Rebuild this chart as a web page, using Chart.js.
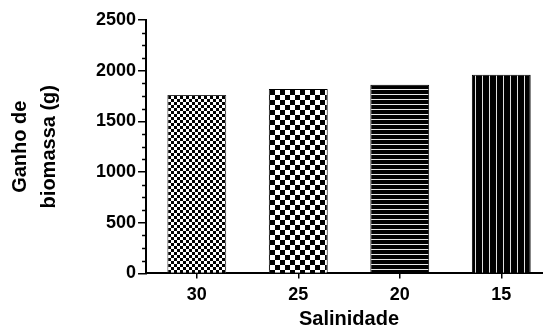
<!DOCTYPE html>
<html>
<head>
<meta charset="utf-8">
<script src="https://cdn.jsdelivr.net/npm/chart.js@4/dist/chart.umd.min.js"></script>
<style>
  html, body { margin: 0; padding: 0; overflow: hidden; background: #fff; }
  #wrap { width: 552px; height: 327px; }
</style>
</head>
<body>
<div id="wrap"><canvas id="chart1" width="552" height="327"></canvas></div>
<script>
const categories = ['30', '25', '20', '15'];
const biomassGain = [1760, 1820, 1860, 1960];
const yTicks = [0, 500, 1000, 1500, 2000, 2500];
const yTitle = ['Ganho de', 'biomassa (g)'];
const xTitle = 'Salinidade';

// build a fill pattern for each bar
function makePattern(kind) {
  const c = document.createElement('canvas');
  const g = c.getContext('2d');
  if (kind === 'fineCheck' || kind === 'check') {
    const s = kind === 'fineCheck' ? 3 : 5;
    c.width = c.height = s * 2;
    g.fillStyle = '#fff';
    g.fillRect(0, 0, s * 2, s * 2);
    g.fillStyle = '#000';
    g.fillRect(0, 0, s, s);
    g.fillRect(s, s, s, s);
  } else if (kind === 'hlines') {
    c.width = 5; c.height = 5;
    g.fillStyle = '#000';
    g.fillRect(0, 0, 5, 5);
    g.fillStyle = '#e8e8e8';
    g.fillRect(0, 4, 5, 1);
  } else {
    c.width = 7; c.height = 7;
    g.fillStyle = '#000';
    g.fillRect(0, 0, 7, 7);
    g.fillStyle = '#e0e0e0';
    g.fillRect(6, 0, 1, 7);
  }
  return document.getElementById('chart1').getContext('2d').createPattern(c, 'repeat');
}

const fills = [makePattern('fineCheck'), makePattern('check'), makePattern('hlines'), makePattern('vlines')];

// minor ticks on the y axis every 125
const minorTicks = {
  id: 'minorTicks',
  afterDraw(chart) {
    const y = chart.scales.y;
    const ctx = chart.ctx;
    ctx.save();
    ctx.strokeStyle = '#000';
    ctx.lineWidth = 1.5;
    for (let v = 125; v < 2500; v += 125) {
      if (v % 500 === 0) continue;
      const py = Math.round(y.getPixelForValue(v)) + 0.5;
      ctx.beginPath();
      ctx.moveTo(y.right - 4, py);
      ctx.lineTo(y.right, py);
      ctx.stroke();
    }
    ctx.restore();
  }
};

const font = 'Liberation Sans, Arial, sans-serif';

new Chart(document.getElementById('chart1'), {
  type: 'bar',
  data: {
    labels: categories,
    datasets: [{
      data: biomassGain,
      backgroundColor: fills,
      borderColor: ['#333', '#000', '#000', '#000'],
      borderWidth: 1,
      barPercentage: 0.58,
      categoryPercentage: 1
    }]
  },
  options: {
    responsive: false,
    animation: false,
    devicePixelRatio: 1,
    layout: { padding: { top: 20, left: 6, right: 0, bottom: 1 } },
    plugins: { legend: { display: false }, tooltip: { enabled: false } },
    scales: {
      x: {
        grid: { display: true, drawOnChartArea: false, offset: false, tickLength: 5, color: '#000', lineWidth: 1.5 },
        border: { display: true, color: '#000', width: 2 },
        ticks: { color: '#000', font: { family: font, size: 18, weight: 'bold' }, padding: 6 },
        title: { display: true, text: xTitle, color: '#000', font: { family: font, size: 20, weight: 'bold', lineHeight: 0.7 }, padding: { top: 0, bottom: 0 } }
      },
      y: {
        min: 0,
        max: 2500,
        afterBuildTicks: (scale) => { scale.ticks = yTicks.map(v => ({ value: v })); },
        grid: { display: true, drawOnChartArea: false, tickLength: 8, color: '#000', lineWidth: 1.5 },
        border: { display: true, color: '#000', width: 2 },
        ticks: { color: '#000', font: { family: font, size: 18, weight: 'bold' }, padding: 2, callback: v => String(v) },
        title: { display: true, text: yTitle, color: '#000', font: { family: font, size: 20, weight: 'bold', lineHeight: 1.45 }, padding: { top: 0, bottom: 30 } }
      }
    }
  },
  plugins: [minorTicks]
});
</script>
</body>
</html>
